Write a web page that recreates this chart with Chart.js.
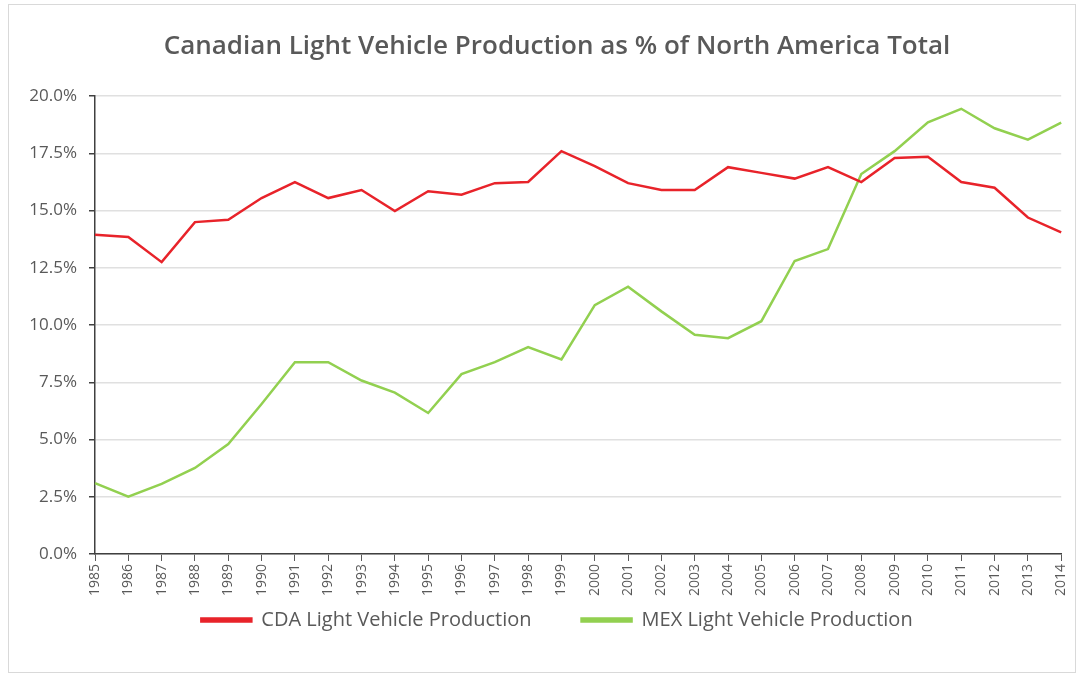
<!DOCTYPE html>
<html>
<head>
<meta charset="utf-8">
<script src="https://cdn.jsdelivr.net/npm/chart.js@4/dist/chart.umd.min.js"></script>
<style>
  html, body { margin: 0; padding: 0; background: #fff; }
  #wrap { width: 1081px; height: 677px; }
</style>
</head>
<body>
<div id="wrap"><canvas id="c"></canvas></div>
<script>
// years on the x axis
const years = ['1985','1986','1987','1988','1989','1990','1991','1992','1993','1994',
  '1995','1996','1997','1998','1999','2000','2001','2002','2003','2004',
  '2005','2006','2007','2008','2009','2010','2011','2012','2013','2014'];

// Canada share of North American light vehicle production (%)
const cdaShare = [13.95, 13.85, 12.75, 14.5, 14.6, 15.55, 16.25, 15.55, 15.9, 14.98,
  15.85, 15.7, 16.2, 16.25, 17.6, 16.95, 16.2, 15.9, 15.9, 16.9,
  16.65, 16.4, 16.9, 16.25, 17.3, 17.35, 16.25, 16.0, 14.7, 14.05];

// Mexico share (%)
const mexShare = [3.1, 2.5, 3.06, 3.76, 4.8, 6.55, 8.38, 8.38, 7.58, 7.05,
  6.16, 7.86, 8.38, 9.04, 8.5, 10.87, 11.68, 10.6, 9.58, 9.43,
  10.17, 12.8, 13.32, 16.6, 17.6, 18.86, 19.45, 18.6, 18.1, 18.85];

const yTicks = [0, 2.5, 5, 7.5, 10, 12.5, 15, 17.5, 20];

const grey = '#595959';
const font = "'Open Sans', 'Liberation Sans', sans-serif";

// light frame round the whole chart
const frame = {
  id: 'frame',
  beforeDraw(chart) {
    const ctx = chart.ctx;
    ctx.save();
    ctx.fillStyle = '#fff';
    ctx.fillRect(0, 0, chart.width, chart.height);
    ctx.strokeStyle = '#d9d9d9';
    ctx.lineWidth = 1;
    ctx.strokeRect(8.5, 4.5, chart.width - 14, chart.height - 9);
    ctx.restore();
  }
};

// title and legend sit centred on the plot area rather than the canvas
const nudge = {
  id: 'nudge',
  afterLayout(chart) {
    [chart.titleBlock, chart.legend].forEach(b => {
      if (b) { b.left += 20; b.right += 20; }
    });
  }
};

new Chart(document.getElementById('c'), {
  type: 'line',
  data: {
    labels: years,
    datasets: [
      {
        label: 'CDA Light Vehicle Production',
        data: cdaShare,
        borderColor: '#e8232a',
        backgroundColor: '#e8232a',
        borderWidth: 2.5,
        pointRadius: 0,
        tension: 0
      },
      {
        label: 'MEX Light Vehicle Production',
        data: mexShare,
        borderColor: '#92d050',
        backgroundColor: '#92d050',
        borderWidth: 2.5,
        pointRadius: 0,
        tension: 0
      }
    ]
  },
  options: {
    responsive: true,
    maintainAspectRatio: false,
    animation: false,
    layout: { padding: { left: 10, right: 17, top: 16, bottom: 37 } },
    plugins: {
      title: {
        display: true,
        text: 'Canadian Light Vehicle Production as % of North America Total',
        color: grey,
        font: { family: font, size: 26, weight: '600' },
        padding: { top: 15, bottom: 34 }
      },
      legend: {
        position: 'bottom',
        labels: {
          color: grey,
          font: { family: font, size: 20 },
          boxWidth: 50,
          boxHeight: 3,
          padding: 10,
          // wider gap between the two entries, as in the original
          generateLabels(chart) {
            const items = Chart.defaults.plugins.legend.labels.generateLabels(chart);
            items[0].text += '\u2003\u2003';
            return items;
          }
        }
      },
      tooltip: { enabled: false }
    },
    scales: {
      x: {
        offset: false,
        grid: { display: true, drawOnChartArea: false, color: '#595959', tickLength: 7 },
        border: { color: '#404040', width: 1.5 },
        ticks: {
          color: grey,
          font: { family: font, size: 14 },
          maxRotation: 90,
          minRotation: 90,
          autoSkip: false,
          padding: 3
        },
        afterFit(scale) { scale.height = 46; }
      },
      y: {
        min: 0,
        max: 20,
        afterBuildTicks(scale) { scale.ticks = yTicks.map(v => ({ value: v })); },
        grid: { color: '#e0e0e0', lineWidth: 1.5, tickLength: 6, tickColor: '#404040' },
        border: { color: '#404040', width: 1.5 },
        ticks: {
          color: grey,
          font: { family: font, size: 17 },
          padding: 12,
          callback: v => v.toFixed(1) + '%'
        },
        afterFit(scale) { scale.width = 85; }
      }
    }
  },
  plugins: [frame, nudge]
});
</script>
</body>
</html>
